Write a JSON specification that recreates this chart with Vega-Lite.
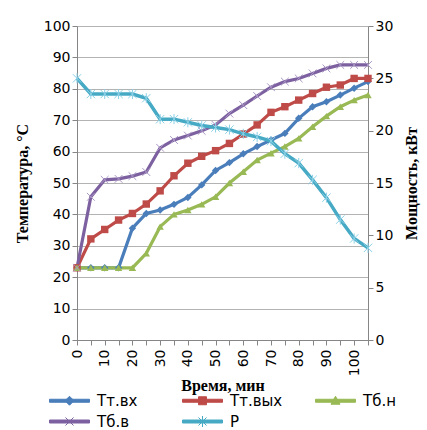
{
  "$schema": "https://vega.github.io/schema/vega-lite/v6.json",
  "autosize": "none",
  "width": 291,
  "height": 314,
  "padding": {"left": 77, "top": 26, "right": 59, "bottom": 90},
  "background": "white",
  "config": {
    "view": {"stroke": null},
    "axis": {"labelFont": "DejaVu Sans", "labelFontSize": 14, "labelColor": "#000000", "titleFont": "Liberation Serif", "titleFontSize": 16, "titleFontWeight": "bold", "titleColor": "#000000", "domainColor": "#868686", "tickColor": "#868686", "tickSize": 5, "gridColor": "#b3b3b3"},
    "legend": {"labelFont": "DejaVu Sans", "labelFontSize": 15, "labelColor": "#000000"}
  },
  "data": {"values": [
    {"t":0,"s":"Тт.вх","v":23},{"t":5,"s":"Тт.вх","v":23},{"t":10,"s":"Тт.вх","v":23},{"t":15,"s":"Тт.вх","v":23},{"t":20,"s":"Тт.вх","v":35.6},{"t":25,"s":"Тт.вх","v":40.3},{"t":30,"s":"Тт.вх","v":41.4},{"t":35,"s":"Тт.вх","v":43.2},{"t":40,"s":"Тт.вх","v":45.4},{"t":45,"s":"Тт.вх","v":49.4},{"t":50,"s":"Тт.вх","v":54.0},{"t":55,"s":"Тт.вх","v":56.5},{"t":60,"s":"Тт.вх","v":59.3},{"t":65,"s":"Тт.вх","v":61.6},{"t":70,"s":"Тт.вх","v":63.7},{"t":75,"s":"Тт.вх","v":65.8},{"t":80,"s":"Тт.вх","v":70.6},{"t":85,"s":"Тт.вх","v":74.3},{"t":90,"s":"Тт.вх","v":75.9},{"t":95,"s":"Тт.вх","v":78.0},{"t":100,"s":"Тт.вх","v":80.2},{"t":105,"s":"Тт.вх","v":82.3},
    {"t":0,"s":"Тт.вых","v":23},{"t":5,"s":"Тт.вых","v":32.2},{"t":10,"s":"Тт.вых","v":35.2},{"t":15,"s":"Тт.вых","v":38.2},{"t":20,"s":"Тт.вых","v":40.3},{"t":25,"s":"Тт.вых","v":43.3},{"t":30,"s":"Тт.вых","v":47.5},{"t":35,"s":"Тт.вых","v":52.3},{"t":40,"s":"Тт.вых","v":56.3},{"t":45,"s":"Тт.вых","v":58.5},{"t":50,"s":"Тт.вых","v":60.3},{"t":55,"s":"Тт.вых","v":62.6},{"t":60,"s":"Тт.вых","v":65.6},{"t":65,"s":"Тт.вых","v":68.5},{"t":70,"s":"Тт.вых","v":72.5},{"t":75,"s":"Тт.вых","v":74.3},{"t":80,"s":"Тт.вых","v":76.4},{"t":85,"s":"Тт.вых","v":78.5},{"t":90,"s":"Тт.вых","v":80.5},{"t":95,"s":"Тт.вых","v":81.2},{"t":100,"s":"Тт.вых","v":83.3},{"t":105,"s":"Тт.вых","v":83.3},
    {"t":0,"s":"Тб.н","v":23},{"t":5,"s":"Тб.н","v":23},{"t":10,"s":"Тб.н","v":23},{"t":15,"s":"Тб.н","v":23},{"t":20,"s":"Тб.н","v":23},{"t":25,"s":"Тб.н","v":27.6},{"t":30,"s":"Тб.н","v":36.1},{"t":35,"s":"Тб.н","v":40.0},{"t":40,"s":"Тб.н","v":41.4},{"t":45,"s":"Тб.н","v":43.2},{"t":50,"s":"Тб.н","v":45.6},{"t":55,"s":"Тб.н","v":50.0},{"t":60,"s":"Тб.н","v":53.6},{"t":65,"s":"Тб.н","v":57.3},{"t":70,"s":"Тб.н","v":59.5},{"t":75,"s":"Тб.н","v":61.6},{"t":80,"s":"Тб.н","v":64.2},{"t":85,"s":"Тб.н","v":67.9},{"t":90,"s":"Тб.н","v":71.3},{"t":95,"s":"Тб.н","v":74.3},{"t":100,"s":"Тб.н","v":76.4},{"t":105,"s":"Тб.н","v":78.0},
    {"t":0,"s":"Тб.в","v":23},{"t":5,"s":"Тб.в","v":45.6},{"t":10,"s":"Тб.в","v":51.0},{"t":15,"s":"Тб.в","v":51.3},{"t":20,"s":"Тб.в","v":52.2},{"t":25,"s":"Тб.в","v":53.5},{"t":30,"s":"Тб.в","v":61.2},{"t":35,"s":"Тб.в","v":63.7},{"t":40,"s":"Тб.в","v":65.1},{"t":45,"s":"Тб.в","v":66.6},{"t":50,"s":"Тб.в","v":68.5},{"t":55,"s":"Тб.в","v":72.1},{"t":60,"s":"Тб.в","v":74.8},{"t":65,"s":"Тб.в","v":77.7},{"t":70,"s":"Тб.в","v":80.5},{"t":75,"s":"Тб.в","v":82.3},{"t":80,"s":"Тб.в","v":83.3},{"t":85,"s":"Тб.в","v":84.9},{"t":90,"s":"Тб.в","v":86.5},{"t":95,"s":"Тб.в","v":87.6},{"t":100,"s":"Тб.в","v":87.6},{"t":105,"s":"Тб.в","v":87.6},
    {"t":0,"s":"P","v":25.0},{"t":5,"s":"P","v":23.5},{"t":10,"s":"P","v":23.5},{"t":15,"s":"P","v":23.5},{"t":20,"s":"P","v":23.5},{"t":25,"s":"P","v":23.1},{"t":30,"s":"P","v":21.1},{"t":35,"s":"P","v":21.1},{"t":40,"s":"P","v":20.8},{"t":45,"s":"P","v":20.5},{"t":50,"s":"P","v":20.3},{"t":55,"s":"P","v":20.1},{"t":60,"s":"P","v":19.7},{"t":65,"s":"P","v":19.4},{"t":70,"s":"P","v":19.0},{"t":75,"s":"P","v":17.8},{"t":80,"s":"P","v":16.9},{"t":85,"s":"P","v":15.3},{"t":90,"s":"P","v":13.6},{"t":95,"s":"P","v":11.5},{"t":100,"s":"P","v":9.7},{"t":105,"s":"P","v":8.8}
  ]},
  "encoding": {
    "x": {"field": "t", "type": "quantitative", "scale": {"domain": [0, 105], "nice": false},
      "axis": {"title": "Время, мин", "values": [0,5,10,15,20,25,30,35,40,45,50,55,60,65,70,75,80,85,90,95,100,105], "labelExpr": "datum.value % 10 == 0 && datum.value <= 100 ? datum.label : ''", "labelAngle": 270, "grid": false, "labelPadding": 4, "titlePadding": 2}}
  },
  "layer": [
    {
      "transform": [{"filter": {"field": "s", "oneOf": ["Тт.вх","Тт.вых","Тб.н","Тб.в"]}}],
      "encoding": {
        "y": {"field": "v", "type": "quantitative", "scale": {"domain": [0, 100], "nice": false},
          "axis": {"title": "Температура, °С", "orient": "left", "values": [0,10,20,30,40,50,60,70,80,90,100], "grid": true, "titlePadding": 13}}
      },
      "layer": [
        {
          "mark": {"type": "line", "strokeWidth": 3.2},
          "encoding": {
            "color": {"field": "s", "type": "nominal", "sort": null,
              "scale": {"domain": ["Тт.вх","Тт.вых","Тб.н","Тб.в","P"], "range": ["#4a7ebb","#be4b48","#98b954","#7d60a0","#46aac5"]},
              "legend": {"title": null, "orient": "none", "legendX": -30, "legendY": 367, "columns": 3, "direction": "horizontal", "gridAlign": "all", "columnPadding": 30, "rowPadding": 5, "padding": 0, "symbolSize": 100, "symbolOffset": 15, "labelOffset": 20, "symbolStrokeWidth": 1,
                "encode": {"symbols": {"update": {
                  "shape": {"signal": "datum.value == 'Тт.вх' ? 'M-4,-0.3H4V0.3H-4Z M0,-0.9L0.9,0L0,0.9L-0.9,0Z' : datum.value == 'Тт.вых' ? 'M-4,-0.3H4V0.3H-4Z M-0.8,-0.8H0.8V0.8H-0.8Z' : datum.value == 'Тб.н' ? 'M-4,-0.3H4V0.3H-4Z M0,-0.9L0.9,0.7H-0.9Z' : datum.value == 'Тб.в' ? 'M-4,-0.3H4V0.3H-4Z M-0.8,-0.8L0.8,0.8M0.8,-0.8L-0.8,0.8' : 'M-4,-0.3H4V0.3H-4Z M-0.8,-0.8L0.8,0.8M0.8,-0.8L-0.8,0.8M0,-1.1V1.1'"},
                  "fill": {"scale": "color", "field": "value"},
                  "stroke": {"scale": "color", "field": "value"},
                  "strokeWidth": {"value": 1},
                  "opacity": {"value": 1}
                }}}}
            }
          }
        },
        {
          "transform": [{"filter": {"field": "s", "oneOf": ["Тт.вх","Тт.вых","Тб.н"]}}],
          "mark": {"type": "point", "filled": true, "opacity": 1, "size": 55},
          "encoding": {
            "color": {"field": "s", "type": "nominal", "sort": null},
            "shape": {"field": "s", "type": "nominal", "scale": {"domain": ["Тт.вх","Тт.вых","Тб.н"], "range": ["diamond","square","triangle-up"]}, "legend": null}
          }
        },
        {
          "transform": [{"filter": {"field": "s", "equal": "Тб.в"}}],
          "mark": {"type": "point", "filled": false, "opacity": 1, "size": 60, "strokeWidth": 1, "shape": "M-1,-1L1,1M1,-1L-1,1", "stroke": "#a996c4"},
          "encoding": {}
        }
      ]
    },
    {
      "transform": [{"filter": {"field": "s", "equal": "P"}}],
      "encoding": {
        "y": {"field": "v", "type": "quantitative", "scale": {"domain": [0, 30], "nice": false},
          "axis": {"title": "Мощность, кВт", "orient": "right", "values": [0,5,10,15,20,25,30], "grid": false, "titleAngle": 270, "titlePadding": 27}}
      },
      "layer": [
        {
          "mark": {"type": "line", "strokeWidth": 3.5},
          "encoding": {"color": {"field": "s", "type": "nominal", "sort": null}}
        },
        {
          "mark": {"type": "point", "filled": false, "opacity": 1, "size": 70, "strokeWidth": 1, "shape": "M-1,-1L1,1M1,-1L-1,1M0,-1.2V1.2", "stroke": "#8cd0e6"},
          "encoding": {}
        }
      ]
    }
  ],
  "resolve": {"scale": {"y": "independent"}}
}
